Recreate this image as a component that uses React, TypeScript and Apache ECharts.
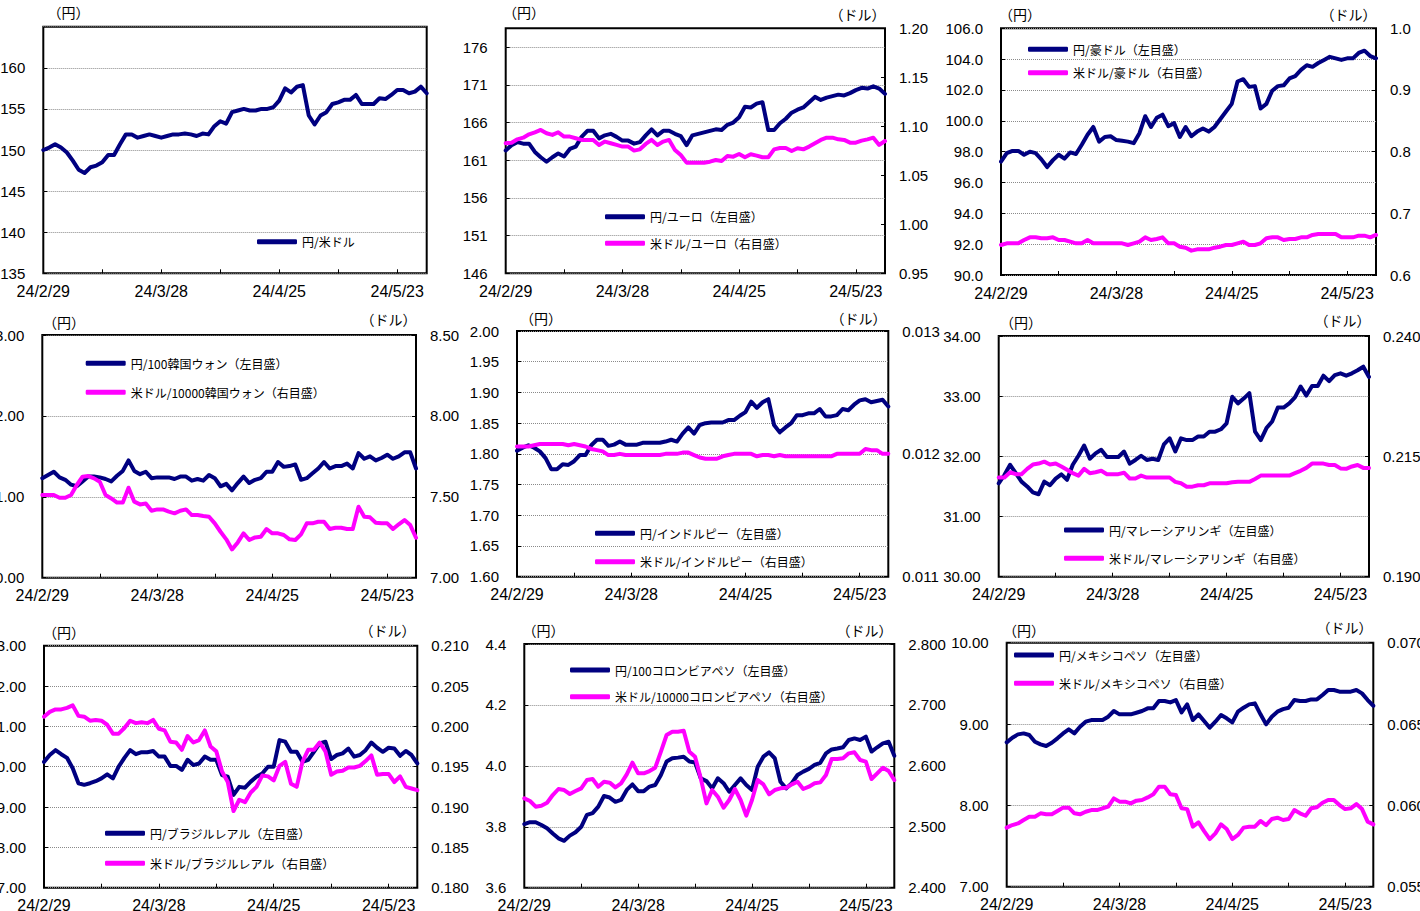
import React, { useEffect, useRef } from 'react';
import * as echarts from 'echarts';

const categories = [
  '24/2/29', '24/3/1', '24/3/4', '24/3/5', '24/3/6', '24/3/7', '24/3/8', '24/3/11', '24/3/12', '24/3/13',
  '24/3/14', '24/3/15', '24/3/18', '24/3/19', '24/3/20', '24/3/21', '24/3/22', '24/3/25', '24/3/26', '24/3/27',
  '24/3/28', '24/3/29', '24/4/1', '24/4/2', '24/4/3', '24/4/4', '24/4/5', '24/4/8', '24/4/9', '24/4/10',
  '24/4/11', '24/4/12', '24/4/15', '24/4/16', '24/4/17', '24/4/18', '24/4/19', '24/4/22', '24/4/23', '24/4/24',
  '24/4/25', '24/4/26', '24/4/29', '24/4/30', '24/5/1', '24/5/2', '24/5/3', '24/5/6', '24/5/7', '24/5/8',
  '24/5/9', '24/5/10', '24/5/13', '24/5/14', '24/5/15', '24/5/16', '24/5/17', '24/5/20', '24/5/21', '24/5/22',
  '24/5/23', '24/5/24', '24/5/27', '24/5/28', '24/5/29', '24/5/30',
];

const jpyPerUsd = [150.0,150.3,150.7,150.3,149.7,148.7,147.6,147.2,147.9,148.1,
  148.5,149.4,149.4,150.7,151.9,151.9,151.5,151.7,151.9,151.7,
  151.5,151.7,151.9,151.9,152.0,151.9,151.7,152.0,151.9,152.9,
  153.5,153.2,154.6,154.8,155.0,154.8,154.8,155.0,155.0,155.2,
  156.0,157.5,157.0,157.7,157.9,154.2,153.1,154.2,154.6,155.6,
  155.8,156.1,156.1,156.7,155.6,155.6,155.6,156.3,156.2,156.7,
  157.3,157.3,156.9,157.1,157.7,156.9];

const jpyPerEur = [162.3,163.0,163.4,163.2,163.2,162.1,161.4,160.8,161.4,161.9,
  161.5,162.5,162.8,164.1,164.9,164.9,163.9,164.3,164.5,164.1,
  163.6,163.6,163.2,163.4,164.3,165.1,164.3,164.9,164.9,164.5,
  164.2,163.0,164.3,164.5,164.7,164.9,165.1,165.0,165.7,166.0,
  166.7,168.1,168.0,168.5,168.7,165.0,165.0,165.9,166.5,167.3,
  167.7,168.0,168.7,169.4,169.0,169.3,169.5,169.7,169.6,169.9,
  170.3,170.6,170.5,170.8,170.5,169.8];
const usdPerEur = [1.0827,1.0833,1.0867,1.0884,1.0918,1.0939,1.0963,1.0929,1.0912,1.0939,
  1.0895,1.0895,1.0878,1.0861,1.0861,1.0861,1.0810,1.0844,1.0827,1.0810,
  1.0793,1.0793,1.0752,1.0765,1.0820,1.0861,1.0810,1.0844,1.0861,1.0759,
  1.0707,1.0629,1.0629,1.0629,1.0629,1.0639,1.0656,1.0646,1.0697,1.0690,
  1.0718,1.0684,1.0714,1.0701,1.0684,1.0684,1.0765,1.0779,1.0779,1.0748,
  1.0776,1.0765,1.0793,1.0827,1.0861,1.0884,1.0884,1.0867,1.0861,1.0833,
  1.0833,1.0854,1.0867,1.0884,1.0810,1.0850];

const jpyPerAud = [97.35,97.9,98.05,98.05,97.8,98.0,97.9,97.5,97.0,97.45,
  97.8,97.55,97.95,97.85,98.45,99.1,99.6,98.65,98.95,99.0,
  98.75,98.7,98.65,98.55,99.2,100.3,99.6,100.2,100.4,99.65,
  99.85,98.95,99.6,99.0,99.3,99.5,99.3,99.6,100.1,100.6,
  101.1,102.55,102.7,102.2,102.25,100.8,101.1,101.95,102.25,102.3,
  102.75,102.9,103.3,103.6,103.5,103.75,103.95,104.15,104.05,103.95,
  104.05,104.05,104.4,104.55,104.2,104.05];
const usdPerAud = [0.6486,0.6514,0.6514,0.6514,0.6568,0.6611,0.6611,0.6595,0.6595,0.6611,
  0.6568,0.6568,0.6541,0.6514,0.6514,0.6568,0.6514,0.6514,0.6514,0.6514,
  0.6514,0.6514,0.6486,0.6514,0.6541,0.6611,0.6568,0.6584,0.6611,0.6514,
  0.6514,0.6459,0.6443,0.6395,0.6416,0.6416,0.6416,0.6443,0.6459,0.6486,
  0.6486,0.6514,0.6541,0.6486,0.6486,0.6514,0.6595,0.6611,0.6611,0.6568,
  0.6584,0.6584,0.6611,0.6611,0.6649,0.6665,0.6665,0.6665,0.6665,0.6611,
  0.6611,0.6611,0.6638,0.6638,0.6611,0.6649];

const jpyPer100Krw = [11.23,11.27,11.31,11.24,11.21,11.15,11.13,11.19,11.25,11.25,
  11.24,11.22,11.19,11.26,11.32,11.45,11.32,11.28,11.31,11.23,
  11.24,11.24,11.24,11.22,11.25,11.25,11.20,11.22,11.20,11.27,
  11.23,11.13,11.16,11.08,11.17,11.25,11.17,11.21,11.23,11.31,
  11.31,11.43,11.37,11.38,11.40,11.21,11.23,11.29,11.35,11.43,
  11.35,11.38,11.38,11.41,11.35,11.54,11.47,11.50,11.45,11.48,
  11.52,11.47,11.50,11.55,11.55,11.35];
const usdPer10000Krw = [7.511,7.511,7.511,7.494,7.494,7.511,7.573,7.624,7.628,7.614,
  7.593,7.511,7.490,7.464,7.464,7.556,7.470,7.453,7.459,7.414,
  7.422,7.422,7.408,7.398,7.414,7.422,7.387,7.387,7.381,7.377,
  7.336,7.284,7.237,7.175,7.218,7.274,7.233,7.249,7.253,7.301,
  7.274,7.274,7.264,7.237,7.233,7.268,7.336,7.336,7.346,7.346,
  7.301,7.309,7.309,7.301,7.301,7.439,7.377,7.373,7.340,7.336,
  7.336,7.301,7.330,7.356,7.325,7.247];

const jpyPerInr = [1.805,1.810,1.814,1.810,1.804,1.793,1.775,1.775,1.783,1.782,
  1.788,1.798,1.798,1.814,1.823,1.823,1.813,1.815,1.820,1.815,
  1.815,1.815,1.818,1.818,1.818,1.818,1.820,1.823,1.820,1.833,
  1.843,1.833,1.847,1.850,1.851,1.851,1.851,1.855,1.855,1.862,
  1.868,1.885,1.875,1.884,1.889,1.847,1.835,1.843,1.850,1.863,
  1.863,1.866,1.866,1.873,1.861,1.861,1.863,1.873,1.871,1.880,
  1.887,1.889,1.884,1.886,1.888,1.877];
const usdPerInr = [0.01206,0.01206,0.01206,0.01207,0.01208,0.01208,0.01208,0.01208,0.01208,0.01207,
  0.01208,0.01207,0.01206,0.01204,0.01203,0.01202,0.01199,0.01199,0.01200,0.01199,
  0.01199,0.01199,0.01199,0.01199,0.01199,0.01199,0.01200,0.01200,0.01200,0.01201,
  0.01201,0.01199,0.01197,0.01196,0.01196,0.01196,0.01198,0.01199,0.01200,0.01200,
  0.01200,0.01200,0.01198,0.01199,0.01199,0.01198,0.01199,0.01198,0.01198,0.01198,
  0.01198,0.01198,0.01198,0.01198,0.01198,0.01198,0.01200,0.01200,0.01200,0.01200,
  0.01200,0.01204,0.01203,0.01203,0.01200,0.01200];

const jpyPerMyr = [31.55,31.69,31.86,31.72,31.58,31.50,31.40,31.37,31.58,31.52,
  31.63,31.70,31.61,31.86,32.01,32.18,31.96,32.05,32.11,31.99,
  31.99,31.99,32.08,31.88,31.94,32.01,31.94,31.96,31.94,32.20,
  32.30,32.08,32.30,32.27,32.27,32.33,32.33,32.41,32.41,32.45,
  32.55,32.99,32.88,32.96,33.05,32.41,32.27,32.47,32.58,32.81,
  32.81,32.88,32.98,33.16,33.01,33.17,33.17,33.34,33.25,33.35,
  33.38,33.34,33.38,33.43,33.49,33.32];
const usdPerMyr = [0.2106,0.2106,0.2117,0.2113,0.2113,0.2124,0.2133,0.2135,0.2139,0.2133,
  0.2135,0.2129,0.2122,0.2115,0.2110,0.2124,0.2115,0.2117,0.2120,0.2113,
  0.2113,0.2113,0.2116,0.2104,0.2104,0.2110,0.2106,0.2106,0.2106,0.2106,
  0.2106,0.2097,0.2094,0.2087,0.2087,0.2090,0.2090,0.2094,0.2094,0.2094,
  0.2094,0.2096,0.2097,0.2097,0.2097,0.2103,0.2110,0.2110,0.2110,0.2110,
  0.2110,0.2110,0.2115,0.2120,0.2126,0.2135,0.2135,0.2135,0.2132,0.2132,
  0.2125,0.2124,0.2129,0.2132,0.2126,0.2126];

const jpyPerBrl = [30.12,30.29,30.41,30.31,30.22,29.96,29.59,29.55,29.59,29.64,
  29.71,29.81,29.71,30.00,30.22,30.41,30.31,30.36,30.36,30.39,
  30.25,30.25,30.02,30.02,29.92,30.17,30.04,30.08,30.25,30.17,
  30.17,29.79,29.75,29.30,29.50,29.48,29.63,29.75,29.83,30.00,
  30.00,30.66,30.62,30.37,30.37,30.12,30.17,30.37,30.58,30.62,
  30.19,30.29,30.33,30.45,30.25,30.29,30.41,30.60,30.47,30.37,
  30.47,30.45,30.27,30.39,30.29,30.08];
const usdPerBrl = [0.2012,0.2018,0.2021,0.2021,0.2023,0.2026,0.2013,0.2012,0.2007,0.2008,
  0.2007,0.2002,0.1991,0.1991,0.1998,0.2007,0.2004,0.2005,0.2004,0.2008,
  0.1997,0.1995,0.1981,0.1980,0.1971,0.1988,0.1980,0.1983,0.1995,0.1975,
  0.1969,0.1944,0.1931,0.1895,0.1909,0.1906,0.1918,0.1925,0.1939,0.1938,
  0.1933,0.1951,0.1956,0.1929,0.1925,0.1956,0.1971,0.1971,0.1980,0.1969,
  0.1940,0.1944,0.1945,0.1949,0.1949,0.1951,0.1957,0.1964,0.1940,0.1941,
  0.1941,0.1931,0.1938,0.1925,0.1923,0.1921];

const jpyPer100Cop = [3.809,3.815,3.815,3.806,3.795,3.778,3.762,3.754,3.771,3.782,
  3.800,3.839,3.845,3.866,3.901,3.896,3.882,3.888,3.921,3.939,
  3.917,3.917,3.932,3.937,3.970,4.014,4.025,4.027,4.030,4.014,
  4.011,3.959,3.950,3.926,3.959,3.943,3.915,3.937,3.959,3.937,
  3.921,3.997,4.030,4.044,4.025,3.948,3.926,3.943,3.970,3.981,
  3.990,4.003,4.010,4.041,4.054,4.057,4.061,4.085,4.090,4.085,
  4.096,4.047,4.061,4.074,4.079,4.033];
const usdPer10000Cop = [2.5467,2.5423,2.5330,2.5346,2.5395,2.5521,2.5620,2.5603,2.5538,2.5587,
  2.5631,2.5767,2.5784,2.5658,2.5740,2.5724,2.5647,2.5713,2.5860,2.6052,
  2.5877,2.5877,2.5915,2.5970,2.6233,2.6506,2.6561,2.6561,2.6577,2.6233,
  2.6150,2.5795,2.5384,2.5603,2.5494,2.5313,2.5439,2.5620,2.5439,2.5182,
  2.5439,2.5767,2.5696,2.5532,2.5603,2.5631,2.5642,2.5696,2.5740,2.5620,
  2.5658,2.5713,2.5729,2.5850,2.6112,2.6112,2.6123,2.6205,2.6222,2.6096,
  2.6068,2.5784,2.5877,2.5970,2.5915,2.5767];

const jpyPerMxn = [8.775,8.832,8.873,8.885,8.865,8.783,8.750,8.730,8.770,8.824,
  8.885,8.934,8.885,8.967,9.029,9.049,9.049,9.049,9.090,9.160,
  9.119,9.119,9.119,9.139,9.160,9.193,9.193,9.283,9.283,9.266,
  9.295,9.143,9.242,9.049,9.119,9.037,8.955,9.029,9.111,9.070,
  9.020,9.152,9.201,9.242,9.254,9.119,8.996,9.090,9.152,9.184,
  9.201,9.295,9.283,9.283,9.303,9.303,9.357,9.418,9.418,9.398,
  9.398,9.398,9.418,9.377,9.295,9.225];
const usdPerMxn = [0.05863,0.05879,0.05889,0.05910,0.05930,0.05930,0.05951,0.05945,0.05945,0.05965,
  0.05986,0.05986,0.05951,0.05945,0.05961,0.05971,0.05971,0.05982,0.05992,0.06043,
  0.06023,0.06023,0.06012,0.06029,0.06033,0.06049,0.06068,0.06115,0.06115,0.06068,
  0.06064,0.05982,0.05977,0.05869,0.05895,0.05842,0.05793,0.05828,0.05883,0.05855,
  0.05793,0.05818,0.05863,0.05869,0.05869,0.05904,0.05879,0.05916,0.05924,0.05910,
  0.05916,0.05971,0.05951,0.05936,0.05982,0.05988,0.06016,0.06033,0.06033,0.06002,
  0.05977,0.05982,0.06008,0.05977,0.05900,0.05883];

// Axis ranges and tick labels
const p2LeftTicks = [146, 151, 156, 161, 166, 171, 176];
const p6RightTicks = [0.19, 0.215, 0.24];

const NAVY = '#000080';
const MAGENTA = '#FF00FF';
const FONT_NUM = '"Liberation Sans", Arial, sans-serif';
const FONT_JP = '"Noto Sans CJK JP", sans-serif';

type AxisSpec = { min: number; max: number; interval?: number; ticks?: number[]; digits: number; hideMax?: boolean };
type SeriesSpec = { name: string; data: number[]; side: 'left' | 'right'; color: string; legend: [number, number] };
type PanelSpec = {
  grid: [number, number, number, number];
  left: AxisSpec;
  right?: AxisSpec;
  series: SeriesSpec[];
  yen: [number, number];
  dollar?: [number, number];
};

const panels: PanelSpec[] = [
  {
    grid: [43.3, 26.7, 383.4, 246.6],
    left: { min: 135, max: 165, interval: 5, digits: 0, hideMax: true },
    series: [{ name: '円/米ドル', data: jpyPerUsd, side: 'left', color: NAVY, legend: [257, 241.7] }],
    yen: [68.5, 12],
  },
  {
    grid: [505.7, 28.3, 379.3, 245],
    left: { min: 146, max: 178.5, ticks: p2LeftTicks, digits: 0 },
    right: { min: 0.95, max: 1.2, interval: 0.05, digits: 2 },
    series: [
      { name: '円/ユーロ（左目盛）', data: jpyPerEur, side: 'left', color: NAVY, legend: [605, 216.7] },
      { name: '米ドル/ユーロ（右目盛）', data: usdPerEur, side: 'right', color: MAGENTA, legend: [605, 243.3] },
    ],
    yen: [524, 12],
    dollar: [857.5, 14],
  },
  {
    grid: [1001, 28.3, 375, 246.7],
    left: { min: 90, max: 106, interval: 2, digits: 1 },
    right: { min: 0.6, max: 1.0, interval: 0.1, digits: 1 },
    series: [
      { name: '円/豪ドル（左目盛）', data: jpyPerAud, side: 'left', color: NAVY, legend: [1028, 49.3] },
      { name: '米ドル/豪ドル（右目盛）', data: usdPerAud, side: 'right', color: MAGENTA, legend: [1028, 72.7] },
    ],
    yen: [1020, 14],
    dollar: [1348.5, 14],
  },
  {
    grid: [42.3, 335, 373.7, 242.7],
    left: { min: 10, max: 13, interval: 1, digits: 2 },
    right: { min: 7, max: 8.5, interval: 0.5, digits: 2 },
    series: [
      { name: '円/100韓国ウォン（左目盛）', data: jpyPer100Krw, side: 'left', color: NAVY, legend: [85.7, 363.3] },
      { name: '米ドル/10000韓国ウォン（右目盛）', data: usdPer10000Krw, side: 'right', color: MAGENTA, legend: [85.7, 392.3] },
    ],
    yen: [64, 322],
    dollar: [388.5, 319],
  },
  {
    grid: [517, 331, 371.3, 245.7],
    left: { min: 1.6, max: 2.0, interval: 0.05, digits: 2 },
    right: { min: 0.011, max: 0.013, interval: 0.001, digits: 3 },
    series: [
      { name: '円/インドルピー（左目盛）', data: jpyPerInr, side: 'left', color: NAVY, legend: [595, 533.3] },
      { name: '米ドル/インドルピー（右目盛）', data: usdPerInr, side: 'right', color: MAGENTA, legend: [595, 561.7] },
    ],
    yen: [541, 318],
    dollar: [858.5, 318],
  },
  {
    grid: [998.7, 336, 370.3, 240.7],
    left: { min: 30, max: 34, interval: 1, digits: 2 },
    right: { min: 0.19, max: 0.24, ticks: p6RightTicks, digits: 3 },
    series: [
      { name: '円/マレーシアリンギ（左目盛）', data: jpyPerMyr, side: 'left', color: NAVY, legend: [1064, 530] },
      { name: '米ドル/マレーシアリンギ（右目盛）', data: usdPerMyr, side: 'right', color: MAGENTA, legend: [1064, 558.3] },
    ],
    yen: [1021, 322],
    dollar: [1342.5, 320],
  },
  {
    grid: [44, 645.7, 373.3, 242],
    left: { min: 27, max: 33, interval: 1, digits: 2 },
    right: { min: 0.18, max: 0.21, interval: 0.005, digits: 3 },
    series: [
      { name: '円/ブラジルレアル（左目盛）', data: jpyPerBrl, side: 'left', color: NAVY, legend: [105, 833.3] },
      { name: '米ドル/ブラジルレアル（右目盛）', data: usdPerBrl, side: 'right', color: MAGENTA, legend: [105, 863.3] },
    ],
    yen: [64, 632],
    dollar: [387.5, 630],
  },
  {
    grid: [524.3, 644, 370, 243.7],
    left: { min: 3.6, max: 4.4, interval: 0.2, digits: 1 },
    right: { min: 2.4, max: 2.8, interval: 0.1, digits: 3 },
    series: [
      { name: '円/100コロンビアペソ（左目盛）', data: jpyPer100Cop, side: 'left', color: NAVY, legend: [570, 670] },
      { name: '米ドル/10000コロンビアペソ（右目盛）', data: usdPer10000Cop, side: 'right', color: MAGENTA, legend: [570, 696.7] },
    ],
    yen: [543.5, 630],
    dollar: [864.5, 630],
  },
  {
    grid: [1006.7, 642.7, 366.6, 244],
    left: { min: 7, max: 10, interval: 1, digits: 2 },
    right: { min: 0.055, max: 0.07, interval: 0.005, digits: 3 },
    series: [
      { name: '円/メキシコペソ（左目盛）', data: jpyPerMxn, side: 'left', color: NAVY, legend: [1014, 655] },
      { name: '米ドル/メキシコペソ（右目盛）', data: usdPerMxn, side: 'right', color: MAGENTA, legend: [1014, 683.3] },
    ],
    yen: [1024, 630],
    dollar: [1344.5, 627],
  },
];

function valueAxis(gridIndex: number, spec: AxisSpec, position: 'left' | 'right') {
  const isLeft = position === 'left';
  const ax: any = {
    type: 'value',
    gridIndex,
    position,
    min: spec.min,
    max: spec.max,
    axisLine: { show: false },
    axisTick: { show: true, inside: true, length: 4, lineStyle: { color: '#000', width: 1 } },
    axisLabel: {
      show: true,
      margin: isLeft ? 18 : 14,
      fontSize: 15,
      fontFamily: FONT_NUM,
      color: '#000',
      showMinLabel: true,
      showMaxLabel: spec.hideMax ? false : true,
      formatter: (v: number) => v.toFixed(spec.digits),
    },
    splitLine: { show: isLeft, lineStyle: { color: '#8a8a8a', type: 'dotted', width: 1 } },
  };
  if (spec.ticks) {
    ax.axisLabel.customValues = spec.ticks;
    ax.axisTick.customValues = spec.ticks;
  } else {
    ax.interval = spec.interval;
  }
  return ax;
}

function buildOption() {
  const grid: any[] = [];
  const xAxis: any[] = [];
  const yAxis: any[] = [];
  const series: any[] = [];
  const legend: any[] = [];
  const graphic: any[] = [];

  panels.forEach((p, gi) => {
    const [l, t, w, h] = p.grid;
    grid.push({
      left: l, top: t, width: w, height: h,
      show: true, borderColor: '#000', borderWidth: 2, backgroundColor: 'transparent',
      containLabel: false, outerBoundsMode: 'none',
    });
    xAxis.push({
      type: 'category',
      gridIndex: gi,
      data: categories,
      boundaryGap: false,
      axisLine: { show: false },
      axisTick: { show: true, inside: true, length: 4, interval: 9, lineStyle: { color: '#000', width: 1 } },
      axisLabel: { interval: 19, margin: 10, fontSize: 16, fontFamily: FONT_NUM, color: '#000' },
      splitLine: { show: false },
    });
    const leftIdx = yAxis.length;
    yAxis.push(valueAxis(gi, p.left, 'left'));
    let rightIdx = -1;
    if (p.right) {
      rightIdx = yAxis.length;
      yAxis.push(valueAxis(gi, p.right, 'right'));
    }
    p.series.forEach((s) => {
      series.push({
        type: 'line',
        name: s.name,
        data: s.data,
        xAxisIndex: gi,
        yAxisIndex: s.side === 'left' ? leftIdx : rightIdx,
        symbol: 'none',
        color: s.color,
        lineStyle: { color: s.color, width: 4, join: 'round', cap: 'round' },
        emphasis: { disabled: true },
      });
      legend.push({
        data: [{ name: s.name }],
        left: s.legend[0],
        top: s.legend[1] - 7,
        orient: 'horizontal',
        padding: 0,
        itemGap: 0,
        itemWidth: 40,
        itemHeight: 5,
        icon: 'roundRect',
        selectedMode: false,
        textStyle: { fontSize: 12, fontFamily: FONT_JP, color: '#000', lineHeight: 14 },
      });
    });
    graphic.push({
      type: 'text', x: p.yen[0], y: p.yen[1],
      style: { text: '（円）', fontSize: 14, fontFamily: FONT_JP, fill: '#000', align: 'center', verticalAlign: 'middle' },
    });
    if (p.dollar) {
      graphic.push({
        type: 'text', x: p.dollar[0], y: p.dollar[1],
        style: { text: '（ドル）', fontSize: 14, fontFamily: FONT_JP, fill: '#000', align: 'center', verticalAlign: 'middle' },
      });
    }
  });

  return {
    animation: false,
    backgroundColor: '#ffffff',
    grid,
    xAxis,
    yAxis,
    series,
    legend,
    graphic,
  };
}

export default function App() {
  const ref = useRef<HTMLDivElement>(null);
  useEffect(() => {
    if (!ref.current) return;
    const chart = echarts.init(ref.current, undefined, { renderer: 'svg' });
    chart.setOption(buildOption() as any);
    return () => chart.dispose();
  }, []);
  return (
    <div
      ref={ref}
      style={{ position: 'absolute', left: 0, top: 0, width: 1420, height: 911, background: '#fff' }}
    />
  );
}
